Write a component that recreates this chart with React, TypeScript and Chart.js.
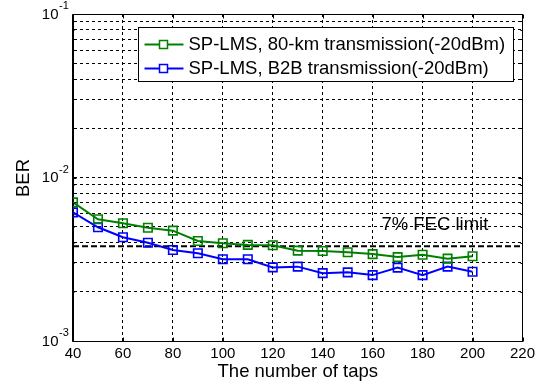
import React, { useEffect, useRef } from 'react';
import { Chart, registerables } from 'chart.js';

Chart.register(...registerables);

// ---- data ----
const taps = [40, 50, 60, 70, 80, 90, 100, 110, 120, 130, 140, 150, 160, 170, 180, 190, 200];
const ber80km = [7.05e-3, 5.55e-3, 5.25e-3, 4.93e-3, 4.73e-3, 4.09e-3, 3.96e-3, 3.87e-3, 3.85e-3, 3.57e-3, 3.55e-3, 3.49e-3, 3.4e-3, 3.26e-3, 3.37e-3, 3.19e-3, 3.3e-3];
const berB2B = [6.12e-3, 4.96e-3, 4.31e-3, 3.99e-3, 3.6e-3, 3.44e-3, 3.16e-3, 3.16e-3, 2.82e-3, 2.85e-3, 2.6e-3, 2.63e-3, 2.53e-3, 2.81e-3, 2.53e-3, 2.85e-3, 2.65e-3];
const fecLimit = 3.8e-3;
const fecLabel = '7% FEC limit';
const seriesLabels = ['SP-LMS, 80-km transmission(-20dBm)', 'SP-LMS, B2B transmission(-20dBm)'];
const xTickValues = [40, 60, 80, 100, 120, 140, 160, 180, 200, 220];
const yDecades = [1e-3, 1e-2, 1e-1];
const yExponents = ['-3', '-2', '-1'];
const yMinorMultipliers = [1, 2, 3, 4, 5, 6, 7, 8, 9];
const xTitle = 'The number of taps';
const yTitle = 'BER';

const FONT = '"Liberation Sans", Arial, Helvetica, sans-serif';

const decor = {
  id: 'decor',
  afterDraw(chart: any) {
    const { ctx, chartArea: a, scales } = chart;
    const xs = scales.x;
    const ys = scales.y;
    const L = Math.round(a.left) - 0.5;
    const R = Math.round(a.right) - 0.5;
    const T = Math.round(a.top) + 0.5;
    const B = Math.round(a.bottom) + 0.5;
    ctx.save();
    ctx.strokeStyle = '#000';
    ctx.lineWidth = 1;
    ctx.setLineDash([]);
    // frame
    ctx.beginPath();
    ctx.moveTo(L, T); ctx.lineTo(R, T); ctx.lineTo(R, B); ctx.lineTo(L, B); ctx.closePath();
    ctx.stroke();
    // inner tick marks
    ctx.beginPath();
    xTickValues.forEach((v) => {
      const px = Math.round(xs.getPixelForValue(v)) + 0.5;
      ctx.moveTo(px, B); ctx.lineTo(px, B - 4);
      ctx.moveTo(px, T); ctx.lineTo(px, T + 4);
    });
    yDecades.forEach((d) => {
      yMinorMultipliers.forEach((m) => {
        const v = d * m;
        if (v > ys.max * 1.0001) return;
        const py = Math.round(ys.getPixelForValue(v)) + 0.5;
        const len = m === 1 ? 4 : 2;
        ctx.moveTo(L, py); ctx.lineTo(L + len, py);
        ctx.moveTo(R, py); ctx.lineTo(R - len, py);
      });
    });
    ctx.stroke();

    // y decade labels with superscript
    ctx.fillStyle = '#000';
    yDecades.forEach((d, i) => {
      const py = ys.getPixelForValue(d);
      ctx.font = `15px ${FONT}`;
      ctx.textAlign = 'right';
      ctx.textBaseline = 'middle';
      ctx.fillText('10', a.left - 14.5, py + 0.5);
      ctx.font = `11px ${FONT}`;
      ctx.textAlign = 'left';
      ctx.fillText(yExponents[i], a.left - 14, py - 8);
    });

    // y title
    ctx.save();
    ctx.translate(24, (a.top + a.bottom) / 2 + 0.5);
    ctx.rotate(-Math.PI / 2);
    ctx.font = `18.5px ${FONT}`;
    ctx.textAlign = 'center';
    ctx.textBaseline = 'middle';
    ctx.fillText(yTitle, 0, 0);
    ctx.restore();

    // FEC label
    ctx.font = `18.5px ${FONT}`;
    ctx.textAlign = 'left';
    ctx.textBaseline = 'middle';
    ctx.fillText(fecLabel, xs.getPixelForValue(163.5), ys.getPixelForValue(5.12e-3));

    // legend
    const lx = Math.round(a.right) - 385 + 0.5;
    const ly = Math.round(a.top) + 13.5;
    const lw = 375;
    const lh = 54;
    ctx.fillStyle = '#fff';
    ctx.fillRect(lx, ly, lw, lh);
    ctx.strokeStyle = '#000';
    ctx.lineWidth = 1;
    ctx.strokeRect(lx, ly, lw, lh);
    const rowY = [ly + 16, ly + 40];
    chart.data.datasets.slice(0, 2).forEach((ds: any, i: number) => {
      const y = Math.round(rowY[i]) + 0.5;
      ctx.strokeStyle = ds.borderColor;
      ctx.lineWidth = 2;
      ctx.beginPath();
      ctx.moveTo(lx + 6, y); ctx.lineTo(lx + 45, y);
      ctx.stroke();
      ctx.lineWidth = 1.5;
      ctx.fillStyle = '#fff';
      ctx.fillRect(lx + 21, y - 4, 8, 8);
      ctx.strokeRect(lx + 21, y - 4, 8, 8);
      ctx.fillStyle = '#000';
      ctx.font = `18.5px ${FONT}`;
      ctx.textAlign = 'left';
      ctx.textBaseline = 'middle';
      ctx.fillText(seriesLabels[i], lx + 50, y + 0.5);
    });
    ctx.restore();
  },
};

export default function App() {
  const ref = useRef<HTMLCanvasElement>(null);
  useEffect(() => {
    const canvas = ref.current!;
    const gridValues: number[] = [];
    yDecades.forEach((d, i) => {
      yMinorMultipliers.forEach((m) => {
        if (i < yDecades.length - 1 || m === 1) gridValues.push(d * m);
      });
    });
    const chart = new Chart(canvas, {
      type: 'line',
      data: {
        datasets: [
          {
            label: seriesLabels[0],
            data: taps.map((x, i) => ({ x, y: ber80km[i] })),
            borderColor: '#008000',
            borderWidth: 2,
            pointStyle: 'rect',
            pointRadius: 6,
            pointBorderWidth: 1.6,
            pointBackgroundColor: 'rgba(0,0,0,0)',
            pointBorderColor: '#008000',
            tension: 0,
          },
          {
            label: seriesLabels[1],
            data: taps.map((x, i) => ({ x, y: berB2B[i] })),
            borderColor: '#0000ff',
            borderWidth: 2,
            pointStyle: 'rect',
            pointRadius: 6,
            pointBorderWidth: 1.6,
            pointBackgroundColor: 'rgba(0,0,0,0)',
            pointBorderColor: '#0000ff',
            tension: 0,
          },
          {
            label: 'FEC',
            data: [
              { x: xTickValues[0], y: fecLimit },
              { x: xTickValues[xTickValues.length - 1], y: fecLimit },
            ],
            borderColor: '#000',
            borderWidth: 2,
            borderDash: [6, 3],
            pointRadius: 0,
          },
        ],
      },
      options: {
        responsive: false,
        animation: false,
        devicePixelRatio: 1,
        layout: { padding: { top: 14, right: 28.5, left: 0, bottom: 0 } },
        plugins: { legend: { display: false }, tooltip: { enabled: false } },
        scales: {
          x: {
            type: 'linear',
            min: xTickValues[0],
            max: xTickValues[xTickValues.length - 1],
            afterBuildTicks: (s: any) => {
              s.ticks = xTickValues.map((v) => ({ value: v }));
            },
            ticks: {
              font: { family: FONT, size: 15 },
              color: '#000',
              padding: 3.5,
              maxRotation: 0,
              autoSkip: false,
            },
            grid: { color: '#000', lineWidth: 1, drawTicks: false },
            border: { display: true, color: '#000', width: 1, dash: [3, 3] },
            title: {
              display: true,
              text: xTitle,
              color: '#000',
              font: { family: FONT, size: 18.5 },
              padding: { top: 0, bottom: 3.5 },
            },
            afterFit: (s: any) => {
              s.height = 46;
            },
          },
          y: {
            type: 'logarithmic',
            min: yDecades[0],
            max: yDecades[yDecades.length - 1],
            afterBuildTicks: (s: any) => {
              s.ticks = gridValues.map((v) => ({ value: v }));
            },
            ticks: { display: false },
            grid: { color: '#000', lineWidth: 1, drawTicks: false },
            border: { display: true, color: '#000', width: 1, dash: [3, 3] },
            afterFit: (s: any) => {
              s.width = 73;
            },
          },
        },
      } as any,
      plugins: [decor],
    });
    return () => chart.destroy();
  }, []);
  return (
    <div style={{ position: 'fixed', left: 0, top: 0, width: 551, height: 387, background: '#fff' }}>
      <canvas ref={ref} width={551} height={387} style={{ width: 551, height: 387, display: 'block' }} />
    </div>
  );
}
